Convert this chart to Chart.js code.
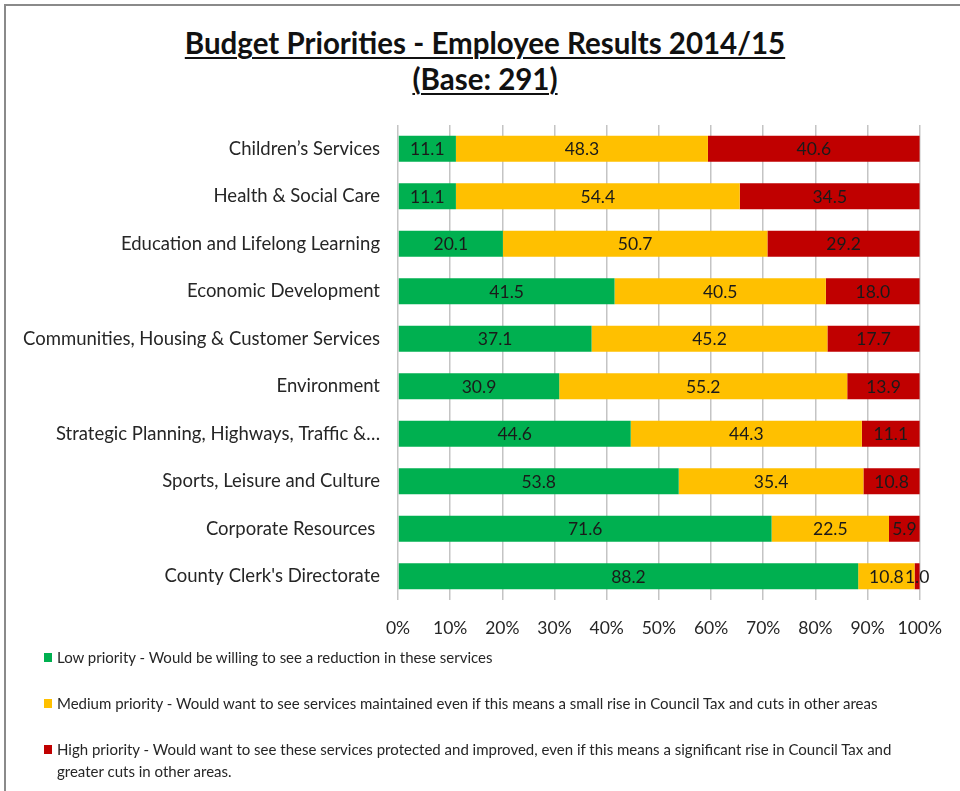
<!DOCTYPE html>
<html>
<head>
<meta charset="utf-8">
<title>Budget Priorities - Employee Results 2014/15</title>
<script src="https://cdn.jsdelivr.net/npm/chart.js@4/dist/chart.umd.min.js"></script>
<style>
  html, body { margin: 0; padding: 0; background: #fff; }
  body { width: 960px; height: 791px; position: relative; overflow: hidden; font-family: Lato, "Open Sans", sans-serif; color: #262626; }
  #frame { position: absolute; left: 4px; top: 4px; width: 1200px; height: 1200px; border-left: 2px solid #8a8a8a; border-top: 2px solid #8a8a8a; }
  #title { position: absolute; left: 0; top: 25px; width: 970px; text-align: center; font-weight: bold; font-size: 29.5px; line-height: 36px; color: #111; }
  #title span { text-decoration: underline; text-decoration-thickness: 2px; text-underline-offset: 3px; }
  #wrap { position: absolute; left: 0; top: 0; width: 960px; height: 791px; }
  #legend { position: absolute; left: 44px; top: 646px; width: 880px; font-size: 15px; line-height: 22px; }
  .item { position: relative; padding-left: 13px; }
  .item .sw { position: absolute; left: 0; top: 7px; width: 8px; height: 9px; }
</style>
</head>
<body>
<div id="frame"></div>
<div id="title"><span>Budget Priorities - Employee Results 2014/15</span><br><span>(Base: 291)</span></div>
<div id="wrap"><canvas id="chart" width="960" height="791"></canvas></div>
<div id="legend"></div>
<script>
// Service areas, top to bottom
const categories = [
  "Children\u2019s Services",
  "Health & Social Care",
  "Education and Lifelong Learning",
  "Economic Development",
  "Communities, Housing & Customer Services",
  "Environment",
  "Strategic Planning, Highways, Traffic &\u2026",
  "Sports, Leisure and Culture",
  "Corporate Resources ",
  "County Clerk's Directorate"
];

// Percentage of respondents per priority level
const lowPriority    = [11.1, 11.1, 20.1, 41.5, 37.1, 30.9, 44.6, 53.8, 71.6, 88.2];
const mediumPriority = [48.3, 54.4, 50.7, 40.5, 45.2, 55.2, 44.3, 35.4, 22.5, 10.8];
const highPriority   = [40.6, 34.5, 29.2, 18.0, 17.7, 13.9, 11.1, 10.8, 5.9, 1.0];

const seriesNames = [
  "Low priority - Would be willing to see a reduction in these services",
  "Medium priority - Would want to see services maintained even if this means a small rise in Council Tax and cuts in other areas",
  "High priority - Would want to see these services protected and improved, even if this means a significant rise in Council Tax and greater cuts in other areas."
];

const xTicks = [0, 10, 20, 30, 40, 50, 60, 70, 80, 90, 100];

const GREEN = "#00B050", AMBER = "#FFC000", RED = "#C00000";

// Writes each segment's value in the middle of its bar
const segmentLabels = {
  id: "segmentLabels",
  afterDatasetsDraw(chart) {
    const ctx = chart.ctx;
    ctx.save();
    ctx.font = "17.5px Lato, 'Open Sans', sans-serif";
    ctx.fillStyle = "#1a1a1a";
    ctx.textAlign = "center";
    ctx.textBaseline = "middle";
    chart.data.datasets.forEach((ds, di) => {
      const meta = chart.getDatasetMeta(di);
      meta.data.forEach((bar, i) => {
        const v = ds.data[i];
        const cx = (bar.x + bar.base) / 2;
        ctx.fillText(v.toFixed(1), cx, bar.y + 1);
      });
    });
    ctx.restore();
  }
};

const chart = new Chart(document.getElementById("chart"), {
  type: "bar",
  data: {
    labels: categories,
    datasets: [
      { label: seriesNames[0], data: lowPriority, backgroundColor: GREEN },
      { label: seriesNames[1], data: mediumPriority, backgroundColor: AMBER },
      { label: seriesNames[2], data: highPriority, backgroundColor: RED }
    ]
  },
  options: {
    indexAxis: "y",
    responsive: false,
    animation: false,
    events: [],
    layout: { padding: { top: 125, right: 40, bottom: 151, left: 0 } },
    datasets: { bar: { barPercentage: 0.55, categoryPercentage: 1.0 } },
    plugins: { legend: { display: false }, title: { display: false }, tooltip: { enabled: false } },
    scales: {
      x: {
        stacked: true,
        min: 0,
        max: 100,
        afterBuildTicks(scale) { scale.ticks = xTicks.map(v => ({ value: v })); },
        afterFit(scale) { scale.height = 40; },
        grid: { color: "#c4c4c4", lineWidth: 1.5, drawTicks: false },
        border: { display: false },
        ticks: {
          padding: 18,
          color: "#262626",
          font: { family: "Lato, 'Open Sans', sans-serif", size: 17.5 },
          callback: v => v + "%"
        }
      },
      y: {
        stacked: true,
        afterFit(scale) { scale.width = 398; },
        grid: { display: false, drawTicks: false },
        border: { display: false },
        ticks: {
          padding: 18,
          color: "#262626",
          font: { family: "Lato, 'Open Sans', sans-serif", size: 18.5 }
        }
      }
    }
  },
  plugins: [segmentLabels]
});

// Legend built from the chart's own datasets
const legend = document.getElementById("legend");
chart.data.datasets.forEach((ds, i) => {
  const row = document.createElement("div");
  row.className = "item";
  row.style.marginBottom = i < 2 ? "24px" : "0";
  const sw = document.createElement("span");
  sw.className = "sw";
  sw.style.background = ds.backgroundColor;
  row.appendChild(sw);
  row.appendChild(document.createTextNode(ds.label));
  legend.appendChild(row);
});
</script>
</body>
</html>
